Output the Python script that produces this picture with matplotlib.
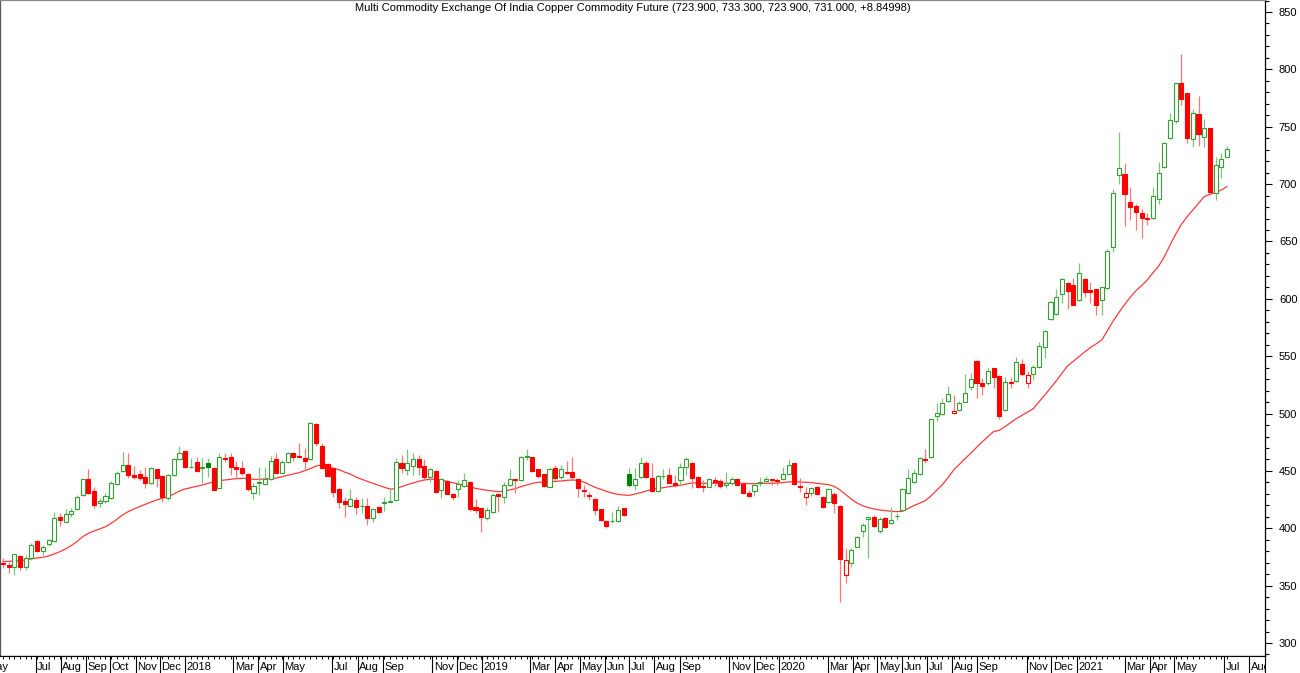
import matplotlib
matplotlib.use('Agg')
import matplotlib.pyplot as plt
import matplotlib.dates as mdates
from matplotlib.ticker import MultipleLocator
import numpy as np
import pandas as pd

plt.rcParams['font.family'] = ['Liberation Sans', 'DejaVu Sans']

# weekly candles, each dated on the Monday of its week
first_week = '2017-05-22'

opens = [
    369.5, 368, 366.5, 376, 366, 374.5, 389, 380.5, 386, 389.2,
    409.9, 405.8, 412.2, 416.5, 429, 442.7, 432.5, 421.9, 423.5, 426.1,
    438.6, 450.2, 455.2, 446.5, 447.3, 444.4, 439.2, 451.4, 445.9, 426.7,
    446.5, 460.1, 467.4, 453.0, 458.1, 452.9, 456.6, 452.9, 434.8, 461,
    462.4, 453.1, 452.3, 447.3, 431, 439.8, 438.3, 442.7, 460.1, 448.5,
    458.1, 465.3, 463.3, 461, 460.1, 490.9, 471.7, 456, 452.2, 434,
    423.8, 419.4, 424.6, 419.0, 419.4, 408.7, 418.2, 422.4, 423, 424.6,
    457.2, 450.8, 454.3, 460.1, 454.3, 445, 450.2, 433.4, 441.5, 429.9,
    433.9, 436.9, 440.6, 418.8, 417.5, 408.7, 414.5, 429.6, 427.5, 437.7,
    442.7, 442.1, 462.5, 461.8, 451.7, 447, 436.3, 452.2, 444.4, 449.4,
    449.4, 442.7, 433.4, 429, 425.2, 416.5, 406.6, 406, 406.6, 417.4,
    447.3, 437.7, 444.4, 457.2, 443.6, 432.8, 445.3, 446.5, 439.8, 442.1,
    453.1, 457.2, 445, 436.9, 436.3, 442.1, 441.5, 437.7, 439.2, 442.7,
    438.6, 431, 432.8, 439.2, 441.4, 442.7, 442.4, 442.7, 447.3, 456.6,
    436.9, 427.6, 431, 436.3, 427.6, 423.2, 429.9, 419.4, 359.3, 370,
    384, 397.6, 408.4, 409.5, 398, 408.7, 404.3, 410.4, 415.9, 431,
    440.6, 447, 460.4, 461.9, 498.2, 499.7, 511.3, 500.2, 503.2, 510.4,
    522.9, 545.8, 527, 526.4, 539.5, 532.8, 503.2, 527.6, 528.7, 543.2,
    526.4, 534.5, 540.3, 558.3, 582.2, 586.8, 604.2, 613.5, 612.1, 599,
    617, 607.8, 608.3, 599, 609.2, 645.4, 708, 708.8, 684.1, 681.2,
    674.5, 670.2, 670.2, 686.7, 714.6, 739.9, 755.3, 787.8, 779.1, 739,
    761.1, 740.8, 748.6, 692.5, 714.6, 723.9,
]
highs = [
    374, 371, 378, 377, 377, 387, 390, 385.5, 391, 414.5,
    413, 416.5, 417.4, 429, 443, 451.4, 436.3, 426, 431, 441.2,
    450.2, 466.2, 465.3, 454.3, 450.8, 453.7, 453, 452, 446.5, 447,
    461, 471.7, 468, 461.5, 462.4, 461, 461, 453.5, 465.3, 465.3,
    465.3, 458.6, 458.6, 447.9, 439.2, 453.7, 453.7, 463, 465.3, 459.5,
    466.8, 466.8, 474.6, 469.7, 493, 491.5, 474, 456.6, 453.7, 434.8,
    427.5, 433.9, 427.5, 426, 426.1, 417.4, 419.4, 427.5, 434, 461,
    463.9, 468.8, 465.3, 463.9, 460.1, 452.2, 450.8, 443.6, 442, 430.5,
    442.1, 447.9, 441.2, 425.2, 418, 418.8, 430.4, 430, 440.6, 451.4,
    443.2, 463, 468.8, 462.5, 452, 447.5, 452.2, 455.2, 455.2, 458.9,
    462.4, 443.6, 437.7, 431.9, 426.1, 417, 407, 414.5, 419.4, 418,
    452.3, 452.3, 461.9, 458.9, 456.6, 446.5, 451.4, 452.3, 446.5, 457.2,
    461.9, 458.1, 445.5, 442.1, 443.6, 445, 442.7, 449.4, 445, 443.2,
    439, 433.4, 439.2, 444.4, 445.6, 443, 443.5, 453.7, 460.1, 457.2,
    443.6, 436.3, 436.3, 436.9, 428.1, 434.8, 431.9, 420, 382.5, 382.5,
    393.3, 404.3, 410.1, 411.6, 410.1, 409.5, 418.8, 413, 434.8, 451.4,
    451.4, 461.8, 468.9, 495.5, 508.9, 513.3, 524.1, 516.2, 511.3, 534.5,
    535.7, 546.7, 530.7, 539.5, 540, 533.3, 532.2, 532.2, 549, 547.3,
    537.4, 542.4, 562.7, 572.5, 598, 608.3, 617.9, 615, 617.9, 631.6,
    617.9, 615, 608.8, 610.6, 643, 695.4, 745.7, 718.7, 697.8, 682.4,
    678, 675.1, 697.8, 719.6, 736.5, 762.3, 788.3, 813.4, 779.6, 765.2,
    776.8, 756.5, 749, 723.9, 727.4, 733.3,
]
lows = [
    365, 361, 359, 364, 364, 372, 379, 376.7, 384.6, 388,
    402, 405.8, 410, 416, 428.5, 430, 418, 418.3, 422.3, 425.3,
    437.7, 449.4, 443.6, 442.7, 442.1, 434.8, 438.5, 436.3, 423.2, 424.7,
    446, 459.5, 452.5, 452.3, 449.4, 439.2, 445, 432.8, 433.9, 458.1,
    446.5, 443.6, 446.5, 432.8, 425.3, 429, 438, 442.1, 447, 447.9,
    457.2, 459, 461.9, 451.4, 459.5, 472, 452, 445, 427.5, 417.4,
    410.1, 418.8, 412.4, 413, 402.8, 405.8, 413, 415, 422.5, 424,
    447.9, 446.5, 446.5, 446.5, 442, 440.6, 430.4, 426.1, 429.5, 424.6,
    427.5, 436.3, 415.3, 413, 397, 407.2, 413, 414.5, 421.7, 436.9,
    431, 441.5, 459.5, 449.4, 444.1, 436.3, 435.7, 442.1, 442.7, 447.3,
    442.1, 427.5, 427, 424.6, 411.6, 406.6, 400, 404.9, 405.8, 410.7,
    436.3, 433.4, 443.6, 443.6, 431.9, 431.9, 442.7, 439.2, 436.3, 436.9,
    446.5, 434.8, 434.8, 432, 435.7, 436.9, 435.4, 434.8, 437.7, 436.9,
    429.9, 427, 428.1, 436.9, 441.2, 437.7, 438, 442.1, 446.5, 437.7,
    432, 420.3, 428.1, 429, 417.4, 422.3, 413.6, 336, 352, 366.6,
    383.4, 392.7, 373.8, 400.8, 396.2, 400, 403.8, 407.2, 415.4, 430.5,
    439.2, 446.5, 456.7, 461, 493.8, 498.8, 510.4, 500, 502.6, 510,
    520.6, 513.3, 516.2, 524.9, 522, 495, 502.6, 522, 527.8, 532.8,
    522, 529.3, 539.5, 548.2, 581.7, 586, 596.7, 590.9, 594.2, 598.4,
    601.9, 596, 586, 585.9, 608.8, 641, 700.1, 663.5, 668.7, 660,
    652.7, 664.4, 669.8, 682.7, 714, 739, 753, 769, 736.1, 732.6,
    733.2, 732, 692, 686.2, 705, 723.9,
]
closes = [
    369, 366.5, 377.3, 366, 374, 385.4, 380.5, 383.4, 389.8, 408.7,
    407.2, 412.2, 415.4, 427.6, 442.7, 431, 420.3, 423.4, 428.1, 439.2,
    447.9, 455.2, 446.5, 444.4, 444.1, 439.8, 452.3, 444.1, 427.6, 446.5,
    460.4, 465.9, 453.1, 453.7, 450, 453.0, 453.5, 433.4, 461.9, 460.1,
    453.7, 452, 448.5, 434, 436.9, 440.7, 443, 458.9, 447.9, 457.5,
    465.3, 462.4, 462.3, 459, 491.5, 474, 452.2, 445.6, 431.9, 423.2,
    420.9, 425.5, 418.8, 419.4, 408.7, 416.5, 413.9, 422.9, 423.5, 458,
    452.8, 456.6, 460.1, 453.7, 445, 451.4, 431.9, 442.7, 429.9, 427,
    438.6, 442.1, 416.5, 416.2, 410.1, 415.9, 429, 428.5, 437.7, 443,
    442.1, 462.4, 462.8, 450.2, 445.6, 436.9, 451.4, 443.6, 451.4, 448.5,
    444.4, 434.8, 432.5, 428.1, 415.9, 407.2, 402, 406.2, 415.9, 411.6,
    437.7, 443, 456.6, 444.4, 432.8, 445.6, 445.8, 439.8, 437.7, 453.7,
    460.1, 443.6, 436.3, 436.1, 442.7, 440.6, 436.9, 439.2, 442.7, 437.7,
    430.4, 428.1, 437.7, 440.6, 442.7, 441.8, 441.5, 447.3, 455.2, 438.6,
    436.3, 431, 434.8, 429.9, 418.2, 433.9, 422.3, 372.9, 372.4, 381.1,
    392.7, 402.9, 409.5, 402, 407.8, 401.4, 407.2, 410.7, 433.9, 443.6,
    447.9, 461, 459.5, 495, 500.8, 509.5, 517.1, 502.6, 509.5, 518.2,
    529.9, 527, 524.1, 537.4, 531.6, 497.9, 527.8, 526.4, 544.7, 534.5,
    533.7, 540.9, 558.9, 572, 597.6, 601.9, 617, 607.2, 594.7, 622.9,
    606.3, 606.0, 594.7, 610, 642, 692.5, 713.7, 691.1, 680.3, 675.4,
    670.2, 669.3, 689.6, 710, 736.1, 755.9, 787.8, 773.9, 739.9, 762.3,
    743.4, 748.6, 693.4, 716.6, 722.15, 731,
]
# moving average line, one value per candle
ma_values = [
    370.9, 371.2, 371.5, 371.8, 372.4, 373.3, 374.1, 374.7, 375.9, 377.6,
    379.6, 382, 384.9, 388.4, 392.7, 395.6, 397.7, 399.4, 401.4, 404.3,
    407.8, 411.6, 414.5, 416.8, 418.9, 420.9, 422.9, 424.7, 426.1, 427.6,
    429.9, 432.5, 434.3, 435.4, 436.6, 437.7, 439.2, 440.4, 441.5, 442.1,
    442.7, 443.3, 443.6, 443.3, 442.7, 442.7, 443, 443.3, 443.8, 445,
    446.2, 447.3, 448.5, 450.2, 452, 454.3, 455.2, 454, 452.2, 451.1,
    449, 447.3, 444.7, 442.7, 440.9, 439.2, 437.4, 435.7, 434.2, 434.5,
    436.3, 438, 439.5, 440.9, 442.1, 442.7, 442.7, 442.1, 440.9, 439.7,
    438.6, 437.4, 436.3, 434.8, 433.9, 433.1, 432.5, 431.9, 432.2, 433.4,
    434.5, 436.3, 437.7, 439.2, 440.1, 440.3, 440.6, 440.9, 441.2, 441.8,
    442.1, 441.8, 440.3, 438, 435.7, 433.9, 432.2, 430.7, 429.6, 429,
    428.7, 429.9, 431, 432.5, 434, 434.8, 435.4, 436.3, 436.9, 437.5,
    438.6, 439.5, 439.5, 439.2, 439.2, 439.2, 439.2, 439.2, 439.2, 439.2,
    439.2, 438.9, 438.9, 439.2, 439.2, 439.2, 439.5, 439.8, 440.4, 440.6,
    440.4, 440.1, 439.8, 439.2, 438.6, 438.0, 436.5, 433.5, 429.5, 425.5,
    422, 419.7, 418, 416.8, 416, 415.4, 414.8, 414.5, 414.8, 417.4,
    419.8, 421.8, 424.1, 428.2, 433.1, 438, 444.2, 450.9, 455.8, 460.7,
    465.7, 470.6, 475.3, 479.9, 484.3, 485.4, 488.6, 492.1, 495.6, 498.5,
    501.4, 504.3, 510.4, 516.2, 522.3, 528.4, 535.1, 541.5, 545.6, 549.6,
    553.7, 557.5, 560.7, 564.1, 572.3, 580.7, 588, 594.9, 601.3, 607.1,
    611.5, 616.4, 622.8, 628.6, 636.8, 646.9, 656.5, 665, 671.6, 677.4,
    683.2, 689.1, 691.1, 692.5, 694.9, 697.8,
]

title_text = ('Multi Commodity Exchange Of India Copper Commodity Future '
              '(723.900, 733.300, 723.900, 731.000, +8.84998)')
price_ticks = list(range(300, 851, 50))
month_labels = [
    ('2017-05-01', 'May'), ('2017-07-01', 'Jul'), ('2017-08-01', 'Aug'),
    ('2017-09-01', 'Sep'), ('2017-10-01', 'Oct'), ('2017-11-01', 'Nov'),
    ('2017-12-01', 'Dec'), ('2018-01-01', '2018'), ('2018-03-01', 'Mar'),
    ('2018-04-01', 'Apr'), ('2018-05-01', 'May'), ('2018-07-01', 'Jul'),
    ('2018-08-01', 'Aug'), ('2018-09-01', 'Sep'), ('2018-11-01', 'Nov'),
    ('2018-12-01', 'Dec'), ('2019-01-01', '2019'), ('2019-03-01', 'Mar'),
    ('2019-04-01', 'Apr'), ('2019-05-01', 'May'), ('2019-06-01', 'Jun'),
    ('2019-07-01', 'Jul'), ('2019-08-01', 'Aug'), ('2019-09-01', 'Sep'),
    ('2019-11-01', 'Nov'), ('2019-12-01', 'Dec'), ('2020-01-01', '2020'),
    ('2020-03-01', 'Mar'), ('2020-04-01', 'Apr'), ('2020-05-01', 'May'),
    ('2020-06-01', 'Jun'), ('2020-07-01', 'Jul'), ('2020-08-01', 'Aug'),
    ('2020-09-01', 'Sep'), ('2020-11-01', 'Nov'), ('2020-12-01', 'Dec'),
    ('2021-01-01', '2021'), ('2021-03-01', 'Mar'), ('2021-04-01', 'Apr'),
    ('2021-05-01', 'May'), ('2021-07-01', 'Jul'), ('2021-08-01', 'Aug'),
]

GREEN = '#33A033'
DARK_GREEN = '#008000'
RED = '#FF0000'
GREEN_WICK = '#7CC47C'
RED_WICK = '#FF7878'
MA_COLOR = '#FF3A3A'


def draw_candles(ax, x, o, h, l, c, width):
    """
    Draws the weekly candles: colour from the previous close, fill from the open.
    """
    prev = np.r_[o[0], c[:-1]]
    rising = c >= prev
    hollow = c >= o
    edge = np.where(rising, np.where(hollow, GREEN, DARK_GREEN), RED)
    face = np.where(hollow, 'white', edge)
    wick = np.where(rising, GREEN_WICK, RED_WICK)

    ax.vlines(x, l, h, colors=wick, linewidth=0.9, zorder=2)
    ax.bar(x, np.abs(c - o), width, bottom=np.minimum(o, c), color=face,
           edgecolor=edge, linewidth=0.8, zorder=3)


W, H = 1300, 673
plot_right = 1265
axis_y = 656

fig = plt.figure(figsize=(W / 100, H / 100), dpi=100)
ax = fig.add_axes([0, (H - axis_y) / H, plot_right / W, axis_y / H])
strip = fig.add_axes([0, 0, plot_right / W, (H - axis_y) / H])

dates = pd.date_range(first_week, periods=len(closes), freq='7D')
x = mdates.date2num(dates)
px_per_day = 5.693 / 7
x_left = x[0] - 3 / px_per_day
x_right = x[0] + (plot_right - 3) / px_per_day

# moving average, then the candles on top
ax.plot(x, ma_values, color=MA_COLOR, linewidth=0.9, zorder=1)
draw_candles(ax, x, np.array(opens), np.array(highs), np.array(lows),
             np.array(closes), 5.0)

ax.set_xlim(x_left, x_right)
ax.set_ylim(850 - 644 / 1.1473, 850 + 12 / 1.1473)
ax.set_xticks([])
ax.yaxis.tick_right()
ax.set_yticks(price_ticks)
ax.yaxis.set_minor_locator(MultipleLocator(10))
ax.tick_params(axis='y', which='major', length=5, width=0.8, direction='out',
               labelsize=8, pad=5)
ax.tick_params(axis='y', which='minor', length=3, width=0.8, direction='out')
for side in ax.spines.values():
    side.set_linewidth(0.9)
ax.spines['top'].set_color('#8a8a8a')
ax.spines['left'].set_color('#555555')

ax.text(0.5, 1 - 8 / axis_y, title_text, transform=ax.transAxes,
        ha='center', va='center', fontsize=8)

# date strip below the chart: weekly ticks, month separators and names
strip.set_xlim(x_left, x_right)
strip.set_ylim(0, 1)
strip.set_xticks([])
strip.set_yticks([])
strip.spines['bottom'].set_visible(False)
strip.spines['left'].set_visible(False)
strip.vlines(x, 0.8, 1, color='black', linewidth=0.7)
for month, label in month_labels:
    mx = mdates.date2num(pd.Timestamp(month))
    strip.vlines(mx, 0, 1, color='black', linewidth=0.8)
    strip.text(mx + 1.6 / px_per_day, 0.38, label, ha='left', va='center',
               fontsize=8, clip_on=True)

fig.savefig('out.png', dpi=100)
